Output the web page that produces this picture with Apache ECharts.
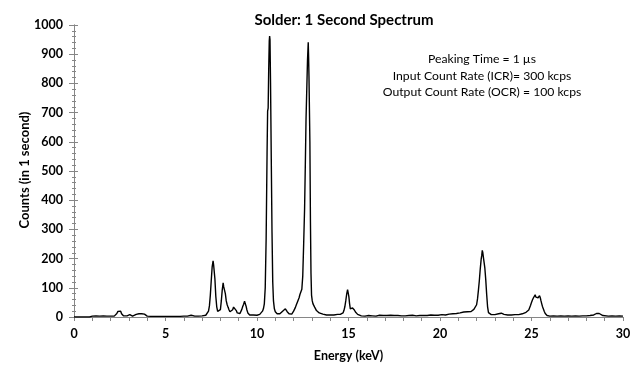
<!DOCTYPE html>
<html>
<head>
<meta charset="utf-8">
<script src="https://cdn.jsdelivr.net/npm/echarts@6/dist/echarts.min.js"></script>
<style>html,body{margin:0;padding:0;background:#fff}#c{width:641px;height:367px}</style>
</head>
<body>
<div id="c"></div>
<script>
const titleText = 'Solder: 1 Second Spectrum';
const noteLines = ['Peaking Time = 1 \u00b5s', 'Input Count Rate (ICR)= 300 kcps', 'Output Count Rate (OCR) = 100 kcps'];
const xName = 'Energy (keV)';
const yName = 'Counts (in 1 second)';
const xTicks = [0, 5, 10, 15, 20, 25, 30];
const yTicks = [0, 100, 200, 300, 400, 500, 600, 700, 800, 900, 1000];

const energy = [
0.0,0.5,0.85,0.9,1.0,1.1,1.2,1.3,1.4,1.5,1.6,1.7,1.8,1.9,2.0,2.1,2.2,2.28,2.34,2.4,2.45,2.5,2.55,2.6,2.65,2.7,2.8,2.9,2.95,3.0,3.05,3.1,3.2,3.3,3.4,3.45,3.5,3.55,3.6,3.65,3.7,3.75,3.8,3.85,3.9,
4.0,4.1,4.2,4.3,4.4,4.5,4.6,4.7,4.8,4.9,5.0,5.1,5.2,5.3,5.4,5.5,5.6,5.7,5.8,5.9,6.0,6.1,6.2,6.3,6.4,6.45,6.5,6.6,6.7,6.8,6.9,
7.0,7.1,7.2,7.25,7.3,7.35,7.4,7.45,7.5,7.55,7.6,7.63,7.66,7.7,7.75,7.8,7.85,7.9,7.95,
8.0,8.05,8.1,8.15,8.18,8.22,8.27,8.32,8.37,8.42,8.47,8.52,8.57,8.62,8.67,8.72,8.77,8.82,8.87,8.92,8.97,
9.02,9.07,9.12,9.17,9.22,9.27,9.32,9.36,9.4,9.45,9.5,9.55,9.6,9.7,9.8,9.9,
10.0,10.1,10.15,10.2,10.25,10.3,10.35,10.4,10.45,10.5,10.55,10.58,10.61,10.64,10.67,10.69,10.71,10.74,10.78,10.82,10.86,10.9,10.95,
11.0,11.05,11.1,11.15,11.2,11.25,11.3,11.35,11.4,11.45,11.5,11.55,11.6,11.65,11.7,11.75,11.8,11.85,11.9,11.95,
12.0,12.05,12.1,12.15,12.2,12.25,12.3,12.35,12.4,12.45,12.5,12.55,12.6,12.64,12.68,12.72,12.76,12.8,12.82,12.84,12.86,12.89,12.92,12.95,12.98,
13.02,13.06,13.1,13.15,13.2,13.25,13.3,13.35,13.4,13.5,13.6,13.7,13.8,13.9,
14.0,14.1,14.2,14.3,14.4,14.5,14.55,14.6,14.65,14.7,14.75,14.8,14.85,14.9,14.95,14.98,
15.02,15.06,15.1,15.14,15.18,15.22,15.27,15.32,15.38,15.45,15.5,15.55,15.6,15.7,15.8,15.9,
16.0,16.1,16.2,16.3,16.4,16.5,16.6,16.7,16.8,16.9,17.0,17.1,17.2,17.3,17.4,17.5,17.6,17.7,17.8,17.9,
18.0,18.1,18.2,18.3,18.4,18.5,18.6,18.7,18.8,18.9,19.0,19.1,19.2,19.3,19.4,19.5,19.6,19.7,19.8,19.9,
20.0,20.1,20.2,20.3,20.4,20.5,20.6,20.7,20.8,20.9,21.0,21.1,21.2,21.3,21.4,21.5,21.6,21.7,21.75,21.8,21.85,21.9,21.95,
22.0,22.05,22.1,22.15,22.2,22.25,22.28,22.31,22.34,22.37,22.4,22.45,22.5,22.55,22.6,22.65,22.7,22.8,22.9,
23.0,23.1,23.2,23.3,23.35,23.4,23.5,23.6,23.7,23.8,23.9,24.0,24.1,24.2,24.3,24.4,24.5,24.6,24.7,24.8,24.85,24.9,24.95,
25.0,25.05,25.1,25.15,25.2,25.24,25.28,25.32,25.36,25.4,25.44,25.48,25.52,25.56,25.6,25.65,25.7,25.75,25.8,25.85,25.9,
26.0,26.2,26.4,26.6,26.8,27.0,27.2,27.4,27.6,27.8,28.0,28.2,28.3,28.4,28.5,28.55,28.6,28.65,28.7,28.8,28.9,
29.0,29.2,29.4,29.6,29.8,29.9,30.0
];
const counts = [
0,0,0,2,3,2,4,2,3,2,4,2,3,2,3,4,3,6,12,19,22,18,20,11,6,4,3,4,6,9,8,4,3,5,9,13,15,11,12,9,11,13,9,10,5,
3,4,2,3,2,3,2,3,2,3,2,3,2,4,2,3,2,3,2,3,3,4,3,5,6,7,5,3,4,3,4,
4,5,6,8,12,20,38,75,125,172,192,178,182,130,70,35,19,14,16,
25,55,92,117,104,108,80,55,42,33,25,18,13,16,25,34,38,32,22,14,10,
9,12,17,26,36,44,54,45,38,24,14,10,7,6,7,5,
6,7,9,11,15,20,28,45,100,270,560,705,715,850,945,962,950,800,540,290,120,55,28,
18,14,11,10,12,11,14,17,20,24,26,28,22,18,14,11,10,8,10,14,
20,26,33,42,50,56,66,78,84,95,140,250,370,520,680,780,880,941,890,825,820,600,330,150,75,
55,45,40,34,28,22,19,16,14,12,10,9,7,6,
7,5,7,6,9,11,9,8,10,14,22,35,55,78,94,88,
70,45,28,22,26,31,28,24,17,11,9,7,5,4,5,3,
4,5,3,4,5,3,4,6,4,5,3,5,4,6,4,5,3,5,6,4,
5,4,6,5,4,6,5,4,6,5,6,5,7,5,6,7,5,6,7,6,
7,8,9,7,9,10,9,11,10,12,11,14,13,17,20,18,22,19,24,21,26,27,32,
42,62,92,125,165,198,210,228,220,205,200,168,128,78,35,15,10,8,7,
8,9,11,12,13,11,9,8,7,8,7,9,8,9,8,10,11,13,16,21,24,30,40,
50,58,65,70,76,68,74,62,66,70,73,66,55,45,36,27,19,12,7,5,4,
3,4,3,4,3,4,3,4,3,4,4,5,6,7,10,12,14,11,12,8,5,
4,3,4,3,4,3,3
];

const seriesData = energy.map((e, i) => [e, counts[i]]);
const font = 'Lato, "Open Sans", sans-serif';
const axisGray = '#868686';
const plain = v => String(v);

const chart = echarts.init(document.getElementById('c'), null, {renderer: 'canvas'});
chart.setOption({
  animation: false,
  backgroundColor: '#ffffff',
  grid: {left: 74, right: 18, top: 25, bottom: 47, containLabel: false},
  xAxis: {
    type: 'value', min: xTicks[0], max: xTicks[xTicks.length - 1], interval: 5,
    name: xName, nameLocation: 'middle', nameGap: 32,
    nameTextStyle: {fontFamily: font, fontWeight: 'bold', fontSize: 12.5, color: '#000'},
    axisLine: {show: true, lineStyle: {color: axisGray, width: 1}},
    axisTick: {show: true, inside: false, length: 4, lineStyle: {color: axisGray}},
    minorTick: {show: true, splitNumber: 5, length: 4, lineStyle: {color: axisGray}},
    splitLine: {show: false},
    axisLabel: {fontFamily: font, fontWeight: 'bold', fontSize: 12.5, color: '#000', margin: 10, formatter: plain}
  },
  yAxis: [{
    type: 'value', min: yTicks[0], max: yTicks[yTicks.length - 1], interval: 100,
    axisLine: {show: true, lineStyle: {color: axisGray, width: 1}},
    axisTick: {show: true, inside: false, length: 5, lineStyle: {color: axisGray}},
    minorTick: {show: true, splitNumber: 5, length: 2, lineStyle: {color: axisGray}},
    splitLine: {show: false},
    axisLabel: {fontFamily: font, fontWeight: 'bold', fontSize: 12.5, color: '#000', margin: 11, formatter: plain}
  }, {
    type: 'value', min: yTicks[0], max: yTicks[yTicks.length - 1], interval: 100,
    position: 'left', offset: 0,
    axisLine: {show: true, lineStyle: {color: axisGray, width: 1}},
    axisTick: {show: true, inside: true, length: 4, lineStyle: {color: axisGray}},
    minorTick: {show: true, splitNumber: 5, length: 2, lineStyle: {color: axisGray}},
    splitLine: {show: false},
    axisLabel: {show: false}
  }],
  series: [{
    type: 'line', data: seriesData, xAxisIndex: 0, yAxisIndex: 0,
    showSymbol: false, symbol: 'none',
    lineStyle: {color: '#000', width: 1.4}
  }],
  graphic: [
    {type: 'text', x: 344, y: 20, style: {text: titleText, font: 'bold 15px ' + font, fill: '#000', textAlign: 'center', textVerticalAlign: 'middle'}},
    {type: 'text', x: 25, y: 170, rotation: Math.PI / 2, style: {text: yName, font: 'bold 13px ' + font, fill: '#000', textAlign: 'center', textVerticalAlign: 'middle'}},
    {type: 'text', x: 482, y: 59, style: {text: noteLines[0], font: '12.2px ' + font, fill: '#000', textAlign: 'center', textVerticalAlign: 'middle'}},
    {type: 'text', x: 482, y: 76, style: {text: noteLines[1], font: '12.2px ' + font, fill: '#000', textAlign: 'center', textVerticalAlign: 'middle'}},
    {type: 'text', x: 482, y: 92, style: {text: noteLines[2], font: '12.2px ' + font, fill: '#000', textAlign: 'center', textVerticalAlign: 'middle'}}
  ]
});
</script>
</body>
</html>
